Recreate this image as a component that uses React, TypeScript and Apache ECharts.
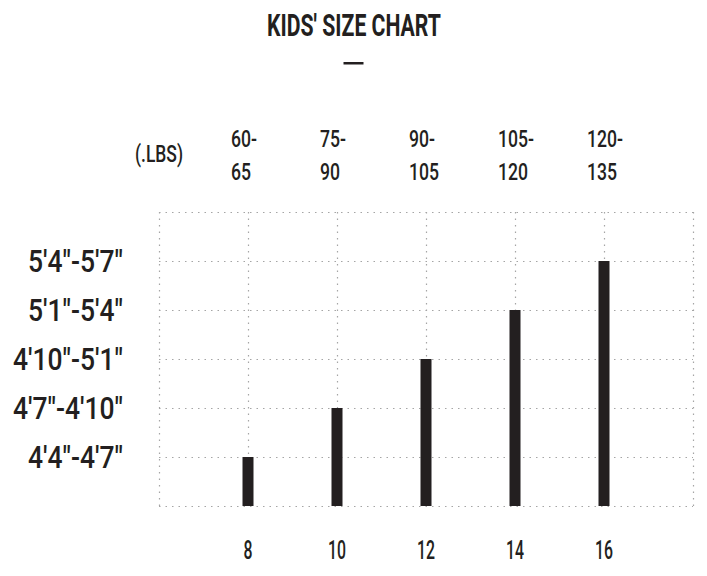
import React, { useEffect, useRef } from "react";
import * as echarts from "echarts";

const sizes = [8, 10, 12, 14, 16];
const heightLevels = [1, 2, 3, 4, 5];
const weightLabels = ["60-\n65", "75-\n90", "90-\n105", "105-\n120", "120-\n135"];
const heightLabels = [
  "4'4\"-4'7\"",
  "4'7\"-4'10\"",
  "4'10\"-5'1\"",
  "5'1\"-5'4\"",
  "5'4\"-5'7\"",
];
const titleText = "KIDS' SIZE CHART";
const unitText = "(.LBS)";

const FAMILY = "Roboto, 'DejaVu Sans Condensed', sans-serif";
const INK = "#231f20";

const TITLE_FONT = `bold 32px ${FAMILY}`;
const YLABEL_FONT = `500 31px ${FAMILY}`;
const TOP_FONT = `500 24px ${FAMILY}`;
const BOTTOM_FONT = `500 25px ${FAMILY}`;

function measure(text: string, font: string): number {
  const ctx = document.createElement("canvas").getContext("2d")!;
  ctx.font = font;
  return ctx.measureText(text).width || 1;
}

export default function App() {
  const ref = useRef<HTMLDivElement>(null);
  useEffect(() => {
    document.body.style.margin = "0";
    const chart = echarts.init(ref.current!, null, { renderer: "svg" });
    const dotted = { color: "#a5a5a5", width: 1.2, type: [1.5, 5] as number[] };
    chart.setOption({
      animation: false,
      backgroundColor: "#ffffff",
      grid: { left: 159, right: 14, top: 212, bottom: 70, containLabel: false, outerBoundsMode: "none" },
      xAxis: [
        {
          type: "value",
          min: 6,
          max: 18,
          interval: 2,
          axisLine: { show: false },
          axisTick: { show: false },
          splitLine: { show: true, lineStyle: dotted },
          axisLabel: { show: false },
        },
      ],
      yAxis: {
        type: "value",
        min: 0,
        max: 6,
        interval: 1,
        axisLine: { show: false },
        axisTick: { show: false },
        splitLine: { show: true, lineStyle: dotted },
        axisLabel: { show: false },
      },
      series: [
        {
          type: "bar",
          barWidth: 11,
          itemStyle: { color: INK },
          data: sizes.map((s, i) => [s, heightLevels[i]]),
        },
      ],
    });

    const px = (v: number) => chart.convertToPixel({ xAxisIndex: 0 }, v) as number;
    const py = (v: number) => chart.convertToPixel({ yAxisIndex: 0 }, v) as number;
    const gridLeft = px(6);
    const gridBottom = py(0);
    const gridTop = py(6);

    const titleScale = 174 / measure(titleText, TITLE_FONT);
    const yScale = 110 / measure(heightLabels[2], YLABEL_FONT);
    const topScale = 36 / measure("105-", TOP_FONT);
    const bottomScale = 18 / measure("10", BOTTOM_FONT);
    const unitScale = 48 / measure(unitText, TOP_FONT);

    const txt = (
      text: string,
      x: number,
      y: number,
      font: string,
      scaleX: number,
      align: string,
      extra: any = {}
    ) => ({
      type: "text",
      x,
      y,
      scaleX,
      silent: true,
      style: {
        text,
        x: 0,
        y: 0,
        font,
        fill: INK,
        align,
        textAlign: align,
        verticalAlign: "middle",
        textVerticalAlign: "middle",
        ...extra,
      },
    });

    const width = chart.getWidth();
    const elements: any[] = [];
    elements.push(txt(titleText, width / 2 + 0.5, 25, TITLE_FONT, titleScale, "center"));
    elements.push({
      type: "rect",
      x: width / 2 - 10,
      y: 62,
      shape: { width: 20, height: 2.5 },
      style: { fill: INK },
      silent: true,
    });
    elements.push(txt(unitText, gridLeft + 24, gridTop - 58, TOP_FONT, unitScale, "right"));
    sizes.forEach((s, i) => {
      elements.push(
        txt(weightLabels[i], px(s) - 17, gridTop - 57.5, TOP_FONT, topScale, "left", { lineHeight: 33 })
      );
      elements.push(txt(String(s), px(s), gridBottom + 45, BOTTOM_FONT, bottomScale, "center"));
    });
    heightLevels.forEach((v, i) => {
      elements.push(txt(heightLabels[i], gridLeft - 36, py(v), YLABEL_FONT, yScale, "right"));
    });

    chart.setOption({ graphic: { elements } });
    return () => chart.dispose();
  }, []);
  return <div ref={ref} style={{ width: 707, height: 576 }} />;
}
